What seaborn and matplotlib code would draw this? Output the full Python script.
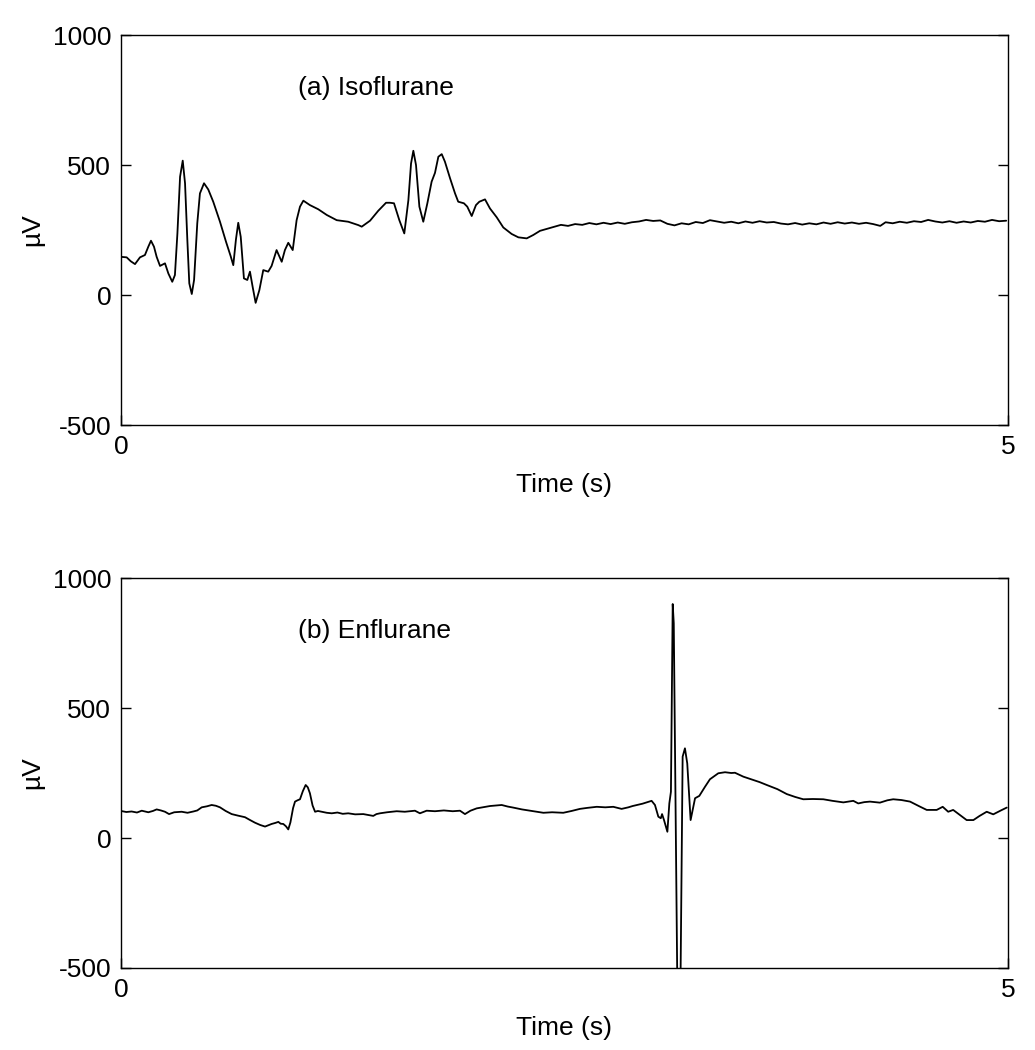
import numpy as np
import pandas as pd
import seaborn as sns
import matplotlib.pyplot as plt

# (a) Isoflurane trace, time in s, amplitude in uV
iso_time = [0.000, 0.032, 0.055, 0.079, 0.107, 0.135, 0.154, 0.169, 0.186, 0.201,
            0.220, 0.248, 0.267, 0.289, 0.304, 0.318, 0.333, 0.348, 0.361, 0.374,
            0.385, 0.399, 0.412, 0.430, 0.445, 0.468, 0.492, 0.520, 0.558, 0.592,
            0.618, 0.633, 0.648, 0.661, 0.675, 0.693, 0.712, 0.727, 0.742, 0.759,
            0.780, 0.802, 0.830, 0.849, 0.877, 0.906, 0.924, 0.943, 0.968, 0.990,
            1.009, 1.028, 1.065, 1.112, 1.160, 1.216, 1.281, 1.338, 1.357, 1.404,
            1.450, 1.494, 1.516, 1.539, 1.569, 1.597, 1.620, 1.635, 1.648, 1.663,
            1.682, 1.704, 1.727, 1.751, 1.770, 1.789, 1.808, 1.826, 1.855, 1.883,
            1.901, 1.933, 1.952, 1.977, 2.001, 2.020, 2.052, 2.080, 2.118, 2.155,
            2.202, 2.240, 2.287, 2.324, 2.362, 2.409,
            2.44, 2.48, 2.52, 2.56, 2.60, 2.64, 2.68, 2.72, 2.76, 2.80,
            2.84, 2.88, 2.92, 2.96, 3.00, 3.04, 3.08, 3.12, 3.16, 3.20,
            3.24, 3.28, 3.32, 3.36, 3.40, 3.44, 3.48, 3.52, 3.56, 3.60,
            3.64, 3.68, 3.72, 3.76, 3.80, 3.84, 3.88, 3.92, 3.96, 4.00,
            4.04, 4.08, 4.12, 4.16, 4.20, 4.24, 4.28, 4.31, 4.35, 4.39,
            4.43, 4.47, 4.51, 4.55, 4.59, 4.63, 4.67, 4.71, 4.75, 4.79,
            4.83, 4.87, 4.91, 4.95, 4.99]
iso_uv = [147, 145, 130, 119, 145, 154, 186, 209, 186, 147,
          112, 122, 83, 51, 77, 237, 455, 517, 430, 212,
          45, 4, 58, 276, 391, 430, 406, 359, 282, 205,
          150, 115, 214, 278, 224, 64, 58, 90, 32, -30,
          19, 96, 90, 112, 173, 128, 173, 201, 173, 288,
          340, 363, 346, 330, 308, 288, 282, 269, 263, 286,
          324, 355, 355, 353, 288, 237, 365, 506, 555, 500,
          340, 282, 353, 436, 470, 532, 542, 513, 449, 391,
          359, 353, 340, 304, 346, 359, 368, 333, 299, 260,
          235, 222, 218, 231, 247, 256,
          262, 270, 266, 273, 270, 277, 272, 278, 273, 279,
          274, 280, 283, 289, 285, 287, 274, 268, 276, 272,
          281, 277, 288, 283, 278, 282, 276, 283, 278, 284,
          279, 281, 275, 272, 277, 271, 276, 272, 279, 274,
          280, 275, 279, 274, 278, 273, 266, 280, 276, 282,
          278, 284, 281, 289, 283, 279, 284, 278, 283, 279,
          285, 282, 289, 284, 286]

# (b) Enflurane trace
enf_time = [0.000, 0.030, 0.060, 0.090, 0.117, 0.154, 0.180, 0.201, 0.225, 0.248,
            0.271, 0.300, 0.342, 0.375, 0.408, 0.430, 0.455, 0.485, 0.511, 0.535,
            0.558, 0.590, 0.624, 0.660, 0.699, 0.725, 0.755, 0.785, 0.812, 0.830,
            0.849, 0.870, 0.887, 0.900, 0.915, 0.930, 0.943, 0.955, 0.970, 0.981,
            0.995, 1.009, 1.025, 1.041, 1.053, 1.065, 1.080, 1.094, 1.110, 1.131,
            1.160, 1.188, 1.220, 1.250, 1.281, 1.320, 1.366, 1.400, 1.422, 1.440,
            1.460, 1.500, 1.554, 1.600, 1.657, 1.685, 1.723, 1.770, 1.820, 1.870,
            1.911, 1.939, 1.970, 2.005, 2.040, 2.080, 2.110, 2.146, 2.180, 2.211,
            2.260, 2.306, 2.340, 2.381, 2.430, 2.493, 2.540, 2.587, 2.630, 2.682,
            2.730, 2.775, 2.822, 2.860, 2.884, 2.940, 2.991, 3.010, 3.029, 3.043,
            3.050, 3.061, 3.080, 3.091, 3.100, 3.110, 3.116, 3.138, 3.152, 3.166,
            3.179, 3.192, 3.211, 3.236, 3.260, 3.292, 3.320, 3.367, 3.405, 3.440,
            3.461, 3.508, 3.560, 3.600, 3.640, 3.700, 3.753, 3.800, 3.846, 3.900,
            3.959, 4.010, 4.072, 4.128, 4.156, 4.190, 4.222, 4.278, 4.320, 4.353,
            4.400, 4.448, 4.500, 4.542, 4.598, 4.632, 4.663, 4.691, 4.730, 4.767,
            4.805, 4.840, 4.880, 4.917, 4.960, 4.993]
enf_uv = [104, 100, 102, 98, 105, 99, 104, 110, 106, 101,
          92, 99, 101, 97, 102, 106, 118, 122, 127, 124,
          118, 104, 92, 86, 80, 70, 59, 50, 44, 49,
          54, 58, 62, 55, 54, 45, 33, 60, 115, 140,
          145, 149, 180, 204, 195, 172, 125, 101, 104, 101,
          97, 95, 98, 93, 95, 91, 92, 88, 85, 92,
          95, 99, 103, 101, 105, 95, 105, 103, 106, 103,
          105, 92, 105, 114, 118, 123, 125, 127, 121, 117,
          110, 105, 101, 97, 99, 97, 104, 112, 116, 120,
          118, 120, 112, 118, 123, 132, 143, 127, 82, 76,
          92, 69, 24, 133, 178, 900, 826, -700, -700, 313,
          345, 287, 69, 153, 162, 197, 226, 249, 253, 250,
          251, 236, 224, 215, 204, 188, 169, 158, 149, 150,
          149, 143, 137, 143, 133, 138, 140, 136, 145, 149,
          146, 140, 122, 108, 108, 120, 101, 108, 88, 69,
          69, 85, 101, 91, 106, 117]

panel_labels = ["(a) Isoflurane", "(b) Enflurane"]

sns.set_style("white")
plt.rcParams['font.family'] = ['Liberation Sans', 'DejaVu Sans']
plt.rcParams['axes.unicode_minus'] = False
plt.rcParams['text.color'] = 'black'

fig = plt.figure(figsize=(10.35, 10.5), dpi=100)
ax_top = fig.add_axes([0.1169, 0.5952, 0.857, 0.3714])
ax_bot = fig.add_axes([0.1169, 0.0781, 0.857, 0.3714])

traces = [(iso_time, iso_uv), (enf_time, enf_uv)]
for ax, (t, v), lab in zip([ax_top, ax_bot], traces, panel_labels):
    df = pd.DataFrame({"t": t, "uv": v})
    sns.lineplot(data=df, x="t", y="uv", ax=ax, color="black", linewidth=1.3,
                 estimator=None, sort=False, solid_joinstyle="round")
    ax.set_xlim(0, 5)
    ax.set_ylim(-500, 1000)
    ax.set_xticks([0, 5])
    ax.set_yticks([-500, 0, 500, 1000])
    ax.tick_params(direction="in", length=7, width=1, labelsize=19,
                   colors="black", right=True, left=True, top=False,
                   bottom=True, pad=7)
    for s in ax.spines.values():
        s.set_visible(True)
        s.set_color("black")
        s.set_linewidth(1)
    ax.set_xlabel("Time (s)", fontsize=19, labelpad=10, color="black")
    ax.set_ylabel("\u00b5V", fontsize=19, labelpad=6, color="black")
    ax.text(1.0, 795, lab, fontsize=19, va="center", ha="left", color="black")

fig.savefig("out.png", dpi=100)
